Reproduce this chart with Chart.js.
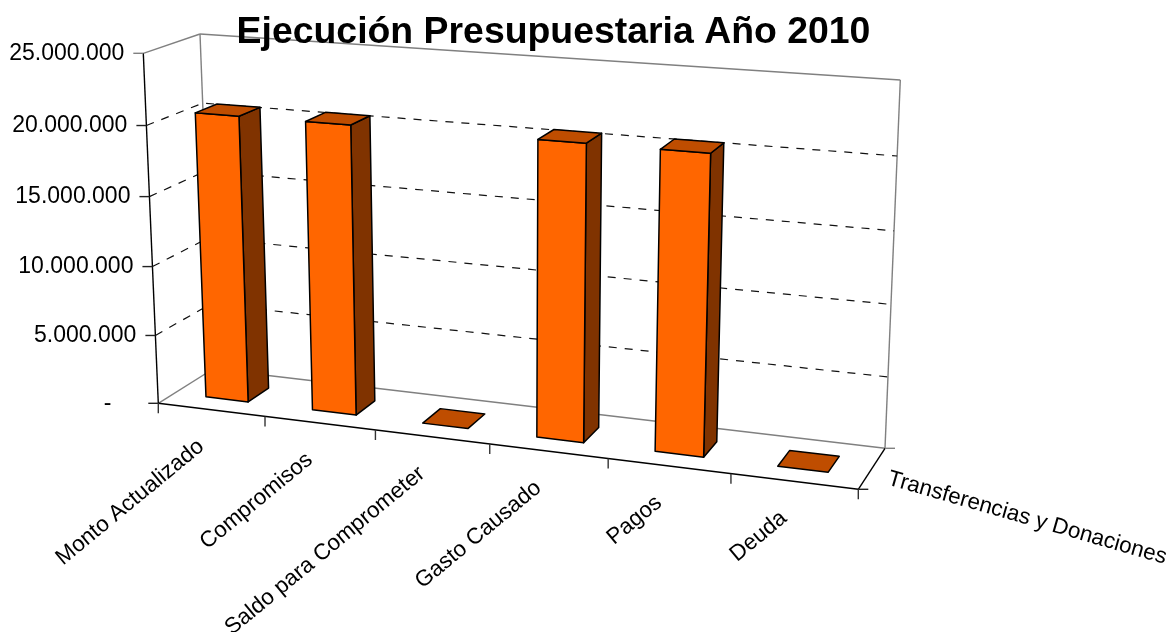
<!DOCTYPE html>
<html><head><meta charset="utf-8">
<style>html,body{margin:0;padding:0;background:#fff}canvas{display:block}</style>
<script src="https://cdn.jsdelivr.net/npm/chart.js@4"></script>
</head><body><canvas id="c" width="1175" height="632"></canvas>
<script>
const categories = ['Monto Actualizado','Compromisos','Saldo para Comprometer','Gasto Causado','Pagos','Deuda'];
const seriesName = 'Transferencias y Donaciones';
const values = [20600000,20600000,0,20620000,20600000,0];
const titleText = 'Ejecución Presupuestaria Año 2010';

// Screen corners of the 3-D box (floor / top, front / back) used by the projection
const box = {
  fb:{l:[158.3,403.3],r:[858.3,489.3]}, bb:{l:[213,369],r:[885,448.3]},
  ft:{l:[143.3,53.3],r:[874,105]},      bt:{l:[200,34],r:[900.3,80]}
};
const KU = 1.112, KV = 1.04, W0 = 0.3, W1 = 0.695;
const warp = (t,k)=> t/(t+k*(1-t));
const mix = (a,b,t)=>[a[0]+(b[0]-a[0])*t, a[1]+(b[1]-a[1])*t];
function P(u,v,w){
  const U=warp(u,KU), V=warp(v,KV);
  const front=mix(mix(box.fb.l,box.fb.r,U),mix(box.ft.l,box.ft.r,U),V);
  const back =mix(mix(box.bb.l,box.bb.r,U),mix(box.bt.l,box.bt.r,U),V);
  return mix(front,back,w);
}
function path(ctx,pts,close){ctx.beginPath();pts.forEach((p,i)=>i?ctx.lineTo(p[0],p[1]):ctx.moveTo(p[0],p[1]));if(close)ctx.closePath();}
function line(ctx,a,b,color,dash,lw){ctx.save();ctx.strokeStyle=color;ctx.lineWidth=lw||1;ctx.setLineDash(dash||[]);path(ctx,[a,b]);ctx.stroke();ctx.restore();}

const perspective = {
  id:'perspective',
  beforeDraw(chart){
    const ctx=chart.ctx, ys=chart.scales.y, xs=chart.scales.x, a=chart.chartArea;
    ctx.save();ctx.fillStyle='#fff';ctx.fillRect(0,0,chart.width,chart.height);
    const G='#808080',K='#000',LW=1.4;
    // walls
    line(ctx,P(0,0,1),P(0,1,1),G,null,LW);
    line(ctx,P(1,0,1),P(1,1,1),G,null,LW);
    line(ctx,P(0,1,1),P(1,1,1),G,null,LW);
    line(ctx,P(0,1,0),P(0,1,1),G,null,LW);
    line(ctx,P(0,0,0),P(0,0,1),G,null,LW);
    line(ctx,P(0,0,1),P(1,0,1),G,null,LW);
    // gridlines
    ys.ticks.forEach(t=>{
      const v=(a.bottom-ys.getPixelForValue(t.value))/a.height;
      if(v<=0.001||v>=0.999)return;
      path(ctx,[P(0,v,0),P(0,v,1),P(1,v,1)]);
      ctx.save();ctx.strokeStyle='#111';ctx.lineWidth=1.2;ctx.setLineDash([8,8]);ctx.stroke();ctx.restore();
    });
    // axes
    line(ctx,P(0,0,0),P(0,1,0),K,null,LW);
    line(ctx,P(0,0,0),P(1,0,0),K,null,LW);
    line(ctx,P(1,0,0),P(1,0,1),K,null,LW);
    // y ticks
    ys.ticks.forEach(t=>{
      const v=(a.bottom-ys.getPixelForValue(t.value))/a.height, p=P(0,v,0);
      line(ctx,[p[0]-10,p[1]],p,v>0.99?G:'#222',null,LW);
    });
    // x ticks
    const n=xs.ticks.length;
    for(let i=0;i<=n;i++){const p=P(i/n,0,0);line(ctx,p,[p[0],p[1]+10],'#333',null,LW);}
    let p=P(1,0,0);line(ctx,p,[p[0]+10,p[1]],'#222',null,LW);
    p=P(1,0,1);line(ctx,p,[p[0]+10,p[1]],G,null,LW);
    ctx.restore();
  },
  beforeDatasetDraw(chart,args){
    const ctx=chart.ctx,a=chart.chartArea,ds=chart.data.datasets[args.index];
    args.meta.data.forEach(el=>{
      const u0=(el.x-el.width/2-a.left)/a.width,u1=(el.x+el.width/2-a.left)/a.width;
      const v=(a.bottom-el.y)/a.height;
      ctx.save();ctx.lineJoin='round';ctx.strokeStyle=ds.borderColor;ctx.lineWidth=ds.borderWidth;
      const face=(pts,c)=>{path(ctx,pts,true);ctx.fillStyle=c;ctx.fill();ctx.stroke();};
      if(v>0.001){
        face([P(u1,0,W0),P(u1,0,W1),P(u1,v,W1),P(u1,v,W0)],ds.sideColor);
        face([P(u0,0,W0),P(u1,0,W0),P(u1,v,W0),P(u0,v,W0)],ds.backgroundColor);
      }
      face([P(u0,v,W0),P(u1,v,W0),P(u1,v,W1),P(u0,v,W1)],ds.topColor);
      ctx.restore();
    });
    return false;
  },
  afterDraw(chart){
    const ctx=chart.ctx,ys=chart.scales.y,xs=chart.scales.x,a=chart.chartArea;
    ctx.save();ctx.fillStyle='#000';ctx.font='23px "Liberation Sans", Arial, sans-serif';
    ctx.textBaseline='middle';ctx.textAlign='right';
    ys.ticks.forEach(t=>{
      const v=(a.bottom-ys.getPixelForValue(t.value))/a.height,p=P(0,v,0);
      const zero=t.value===0;
      ctx.fillText(t.label,zero?p[0]-47:p[0]-19,p[1]+(zero?0:0.5));
    });
    ctx.font='22.4px "Liberation Sans", Arial, sans-serif';
    // category labels, rotated, anchored under their slot on the front edge
    xs.ticks.forEach((t,i)=>{
      const u=(xs.getPixelForTick(i)-a.left)/a.width,p=P(u,0,0);
      ctx.save();ctx.translate(p[0]-10,p[1]+34);ctx.rotate(-39.5*Math.PI/180);
      ctx.textAlign='right';ctx.fillText(t.label,0,0);ctx.restore();
    });
    const d=P(1,0,0);
    ctx.save();ctx.translate(d[0]+30,d[1]-11);ctx.rotate(16*Math.PI/180);
    ctx.textAlign='left';ctx.fillText(chart.data.datasets[0].label,0,0);ctx.restore();
    ctx.restore();
  }
};

new Chart(document.getElementById('c'),{
  type:'bar',
  data:{labels:categories,datasets:[{
    label:seriesName,data:values,
    backgroundColor:'#FF6600',sideColor:'#803300',topColor:'#BF4D00',
    borderColor:'#000',borderWidth:1.5,
    categoryPercentage:0.4,barPercentage:1
  }]},
  options:{
    responsive:false,animation:false,events:[],
    layout:{padding:{right:68}},
    plugins:{
      legend:{display:false},tooltip:{enabled:false},
      title:{display:true,text:titleText,color:'#000',
        font:{family:'"Liberation Sans", Arial, sans-serif',size:37.4,weight:'bold'},padding:{top:10,bottom:8}}
    },
    scales:{
      x:{display:false,ticks:{autoSkip:false}},
      y:{display:false,min:0,max:25000000,ticks:{stepSize:5000000,
        callback:v=>v===0?'-':v.toLocaleString('de-DE')}}
    }
  },
  plugins:[perspective]
});
</script></body></html>
